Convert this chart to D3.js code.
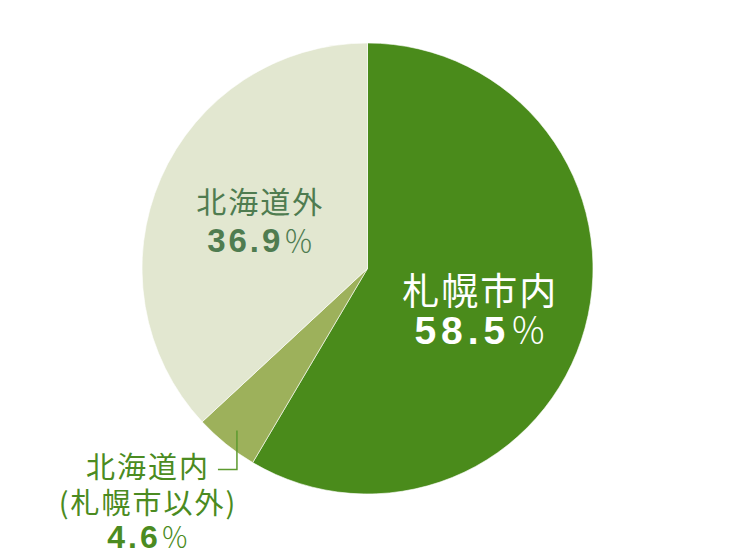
<!DOCTYPE html>
<html>
<head>
<meta charset="utf-8">
<script src="https://cdn.jsdelivr.net/npm/d3@7"></script>
<style>
  body { margin: 0; background: #fff; }
  svg { display: block; }
</style>
</head>
<body>
<div id="chart"></div>
<script>
// data
var categories = ['札幌市内', '北海道内', '北海道外'];
var subLabels = ['', '(札幌市以外)', ''];
var shares = [58.5, 4.6, 36.9];
var sliceColors = ['#4a8b1b', '#9db15b', '#e2e7d0'];

var width = 750, height = 551;
var cx = 367.5, cy = 268.5, radius = 225.5;

var svg = d3.select('#chart').append('svg')
  .attr('width', width)
  .attr('height', height);

var g = svg.append('g')
  .attr('transform', 'translate(' + cx + ',' + cy + ')');

var pie = d3.pie().sort(null).value(function(d){ return d; });
var arcs = pie(shares);

var arc = d3.arc().innerRadius(0).outerRadius(radius);
var labelArc = d3.arc().innerRadius(117).outerRadius(117);
var leaderArc = d3.arc().innerRadius(208).outerRadius(208);

g.selectAll('path.slice')
  .data(arcs)
  .enter().append('path')
  .attr('class', 'slice')
  .attr('d', arc)
  .attr('fill', function(d, i){ return sliceColors[i]; })
  .attr('stroke', '#ffffff')
  .attr('stroke-opacity', 0.6)
  .attr('stroke-width', 1);

var jpFont = '"Noto Sans CJK JP", "Noto Sans", sans-serif';
var numFont = '"Liberation Sans", Arial, sans-serif';

// write "xx.x％" with bold digits and a thin full-width percent sign
var addPercent = function(text, value, numSize, pctSize, spacing){
  text.append('tspan')
    .attr('font-family', numFont)
    .attr('font-weight', 'bold')
    .attr('font-size', numSize)
    .attr('letter-spacing', spacing)
    .text(value.toFixed(1));
  text.append('tspan')
    .attr('font-family', jpFont)
    .attr('font-weight', 300)
    .attr('font-size', pctSize)
    .text('％');
}

// labels inside the two big slices
var inside = [
  {i: 0, color: '#ffffff', nameSize: 37, nameSpacing: 2, dy1: 6, numSize: 39, pctSize: 36, spacing: 5, dy2: 45},
  {i: 2, color: '#4f7c50', nameSize: 30, nameSpacing: 2, dy1: -9, numSize: 33, pctSize: 30, spacing: 3, dy2: 30}
];

inside.forEach(function(l){
  var c = labelArc.centroid(arcs[l.i]);
  g.append('text')
    .attr('x', c[0]).attr('y', c[1] + l.dy1)
    .attr('text-anchor', 'middle')
    .attr('fill', l.color)
    .attr('font-family', jpFont)
    .attr('font-weight', 400)
    .attr('font-size', l.nameSize)
    .attr('letter-spacing', l.nameSpacing)
    .text(categories[l.i]);
  var t = g.append('text')
    .attr('x', c[0]).attr('y', c[1] + l.dy2)
    .attr('text-anchor', 'middle')
    .attr('fill', l.color);
  addPercent(t, shares[l.i], l.numSize, l.pctSize, l.spacing);
});

// small slice: label outside with a bracket leader
var small = 1;
var p = leaderArc.centroid(arcs[small]);
var outColor = '#4b8b21';
g.append('path')
  .attr('d', 'M' + p[0] + ',' + p[1] + 'V' + (p[1] + 39) + 'H' + (p[0] - 19))
  .attr('fill', 'none')
  .attr('stroke', '#5d9a2f')
  .attr('stroke-width', 1.5);

var tx = p[0] - 89;
g.append('text')
  .attr('x', tx).attr('y', p[1] + 48)
  .attr('text-anchor', 'middle')
  .attr('fill', outColor)
  .attr('font-family', jpFont)
  .attr('font-size', 29)
  .attr('letter-spacing', 2)
  .text(categories[small]);
g.append('text')
  .attr('x', tx).attr('y', p[1] + 84)
  .attr('text-anchor', 'middle')
  .attr('fill', outColor)
  .attr('font-family', jpFont)
  .attr('font-size', 29)
  .attr('letter-spacing', 2)
  .text(subLabels[small]);
var t3 = g.append('text')
  .attr('x', tx).attr('y', p[1] + 118)
  .attr('text-anchor', 'middle')
  .attr('fill', outColor);
addPercent(t3, shares[small], 32, 28, 3);
</script>
</body>
</html>
